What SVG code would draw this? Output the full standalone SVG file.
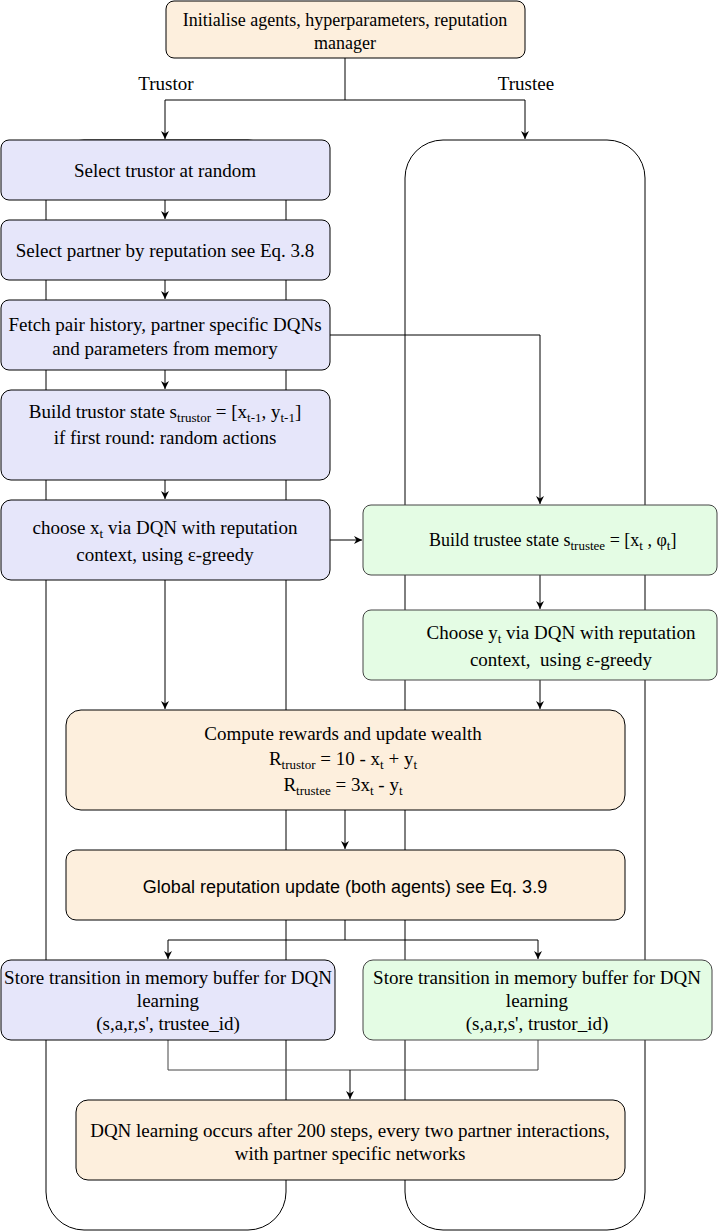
<svg xmlns="http://www.w3.org/2000/svg" width="719" height="1231" viewBox="0 0 719 1231">
<style>
.lane{fill:none;stroke:#000;stroke-width:1}
.peach{fill:#fdefdd;stroke:#000;stroke-width:1}
.lav{fill:#e6e6fa;stroke:#000;stroke-width:1}
.grn{fill:#e4fce4;stroke:#444;stroke-width:1}
.t{font-family:"Liberation Serif","Times New Roman",serif;font-size:19px;fill:#000;text-anchor:middle}
.t18{font-size:18px}
.ts{font-family:"Liberation Sans",Arial,sans-serif;font-size:18px;fill:#000;text-anchor:middle}
.sub{font-size:13px}
.c{fill:none;stroke:#000;stroke-width:1}
.cg{fill:none;stroke:#444;stroke-width:1}
</style>
<defs>
<marker id="ah" viewBox="0 0 10 10" refX="10" refY="5" markerWidth="8" markerHeight="8" markerUnits="userSpaceOnUse" orient="auto">
<path d="M0,0 L10,5 L0,10 L3,5 Z" fill="#000"/>
</marker>
</defs>
<g id="lanes">
<rect class="lane" x="46" y="140" width="240" height="1090" rx="38" ry="38"/>
<rect class="lane" x="405" y="140" width="240" height="1090" rx="38" ry="38"/>
</g>
<g id="connectors">
<path class="c" d="M345,58 V100 H165 V139" marker-end="url(#ah)"/>
<path class="c" d="M345,100 H525 V139" marker-end="url(#ah)"/>
<path class="c" d="M165,200 V219" marker-end="url(#ah)"/>
<path class="c" d="M165,280 V299" marker-end="url(#ah)"/>
<path class="c" d="M165,370 V389" marker-end="url(#ah)"/>
<path class="c" d="M165,480 V499" marker-end="url(#ah)"/>
<path class="c" d="M330,335 H540 V504" marker-end="url(#ah)"/>
<path class="c" d="M330,540 H362" marker-end="url(#ah)"/>
<path class="c" d="M540,575 V609" marker-end="url(#ah)"/>
<path class="c" d="M165,580 V709" marker-end="url(#ah)"/>
<path class="c" d="M540,680 V709" marker-end="url(#ah)"/>
<path class="c" d="M345,810 V849" marker-end="url(#ah)"/>
<path class="c" d="M345,920 V940 H168 V959" marker-end="url(#ah)"/>
<path class="c" d="M345,940 H538 V959" marker-end="url(#ah)"/>
<path class="cg" d="M168,1040 V1070 H538 V1040"/>
<path class="c" d="M350,1070 V1099" marker-end="url(#ah)"/>
</g>
<g id="labels">
<text class="t" x="166" y="90">Trustor</text>
<text class="t" x="526" y="90">Trustee</text>
</g>
<g id="init">
<rect class="peach" x="166" y="1" width="359" height="57" rx="8"/>
<text class="t t18" x="345" y="26">Initialise agents, hyperparameters, reputation</text>
<text class="t t18" x="345" y="49">manager</text>
</g>
<g id="select-trustor">
<rect class="lav" x="1" y="140" width="329" height="60" rx="8"/>
<text class="t" x="165" y="177">Select trustor at random</text>
</g>
<g id="select-partner">
<rect class="lav" x="1" y="220" width="329" height="60" rx="8"/>
<text class="t" x="165" y="257">Select partner by reputation see Eq. 3.8</text>
</g>
<g id="fetch">
<rect class="lav" x="1" y="300" width="329" height="70" rx="8"/>
<text class="t" x="165" y="331">Fetch pair history, partner specific DQNs</text>
<text class="t" x="165" y="355">and parameters from memory</text>
</g>
<g id="build-trustor">
<rect class="lav" x="1" y="390" width="329" height="90" rx="10"/>
<text class="t" x="165" y="418">Build trustor state s<tspan class="sub" dy="4">trustor</tspan><tspan dy="-4"> = [x</tspan><tspan class="sub" dy="4">t-1</tspan><tspan dy="-4">, y</tspan><tspan class="sub" dy="4">t-1</tspan><tspan dy="-4">]</tspan></text>
<text class="t" x="165" y="444">if first round: random actions</text>
</g>
<g id="choose-x">
<rect class="lav" x="1" y="500" width="329" height="80" rx="10"/>
<text class="t" x="165" y="534">choose x<tspan class="sub" dy="4">t</tspan><tspan dy="-4"> via DQN with reputation</tspan></text>
<text class="t" x="165" y="561">context, using ε-greedy</text>
</g>
<g id="build-trustee">
<rect class="grn" x="363" y="505" width="354" height="70" rx="8"/>
<text class="t t18" x="429" y="546" style="text-anchor:start">Build trustee state s<tspan class="sub" dy="4">trustee</tspan><tspan dy="-4"> = [x</tspan><tspan class="sub" dy="4">t</tspan><tspan dy="-4"> , φ</tspan><tspan class="sub" dy="4">t</tspan><tspan dy="-4">]</tspan></text>
</g>
<g id="choose-y">
<rect class="grn" x="363" y="610" width="354" height="70" rx="8"/>
<text class="t" x="561" y="639">Choose y<tspan class="sub" dy="4">t</tspan><tspan dy="-4"> via DQN with reputation</tspan></text>
<text class="t" x="561" y="666" xml:space="preserve">context,  using ε-greedy</text>
</g>
<g id="compute">
<rect class="peach" x="66" y="710" width="559" height="100" rx="15"/>
<text class="t" x="343" y="740">Compute rewards and update wealth</text>
<text class="t" x="343" y="765">R<tspan class="sub" dy="4">trustor</tspan><tspan dy="-4"> = 10 - x</tspan><tspan class="sub" dy="4">t</tspan><tspan dy="-4"> + y</tspan><tspan class="sub" dy="4">t</tspan></text>
<text class="t" x="343" y="791">R<tspan class="sub" dy="4">trustee</tspan><tspan dy="-4"> = 3x</tspan><tspan class="sub" dy="4">t</tspan><tspan dy="-4"> - y</tspan><tspan class="sub" dy="4">t</tspan></text>
</g>
<g id="global">
<rect class="peach" x="66" y="850" width="559" height="70" rx="10"/>
<text class="ts" x="345" y="893">Global reputation update (both agents) see Eq. 3.9</text>
</g>
<g id="store-trustor">
<rect class="lav" x="1" y="960" width="334" height="80" rx="10"/>
<text class="t" x="168" y="984">Store transition in memory buffer for DQN</text>
<text class="t" x="168" y="1007">learning</text>
<text class="t" x="168" y="1030">(s,a,r,s', trustee_id)</text>
</g>
<g id="store-trustee">
<rect class="grn" x="363" y="960" width="349" height="80" rx="10"/>
<text class="t" x="537" y="984">Store transition in memory buffer for DQN</text>
<text class="t" x="537" y="1007">learning</text>
<text class="t" x="537" y="1030">(s,a,r,s', trustor_id)</text>
</g>
<g id="dqn-learning">
<rect class="peach" x="76" y="1100" width="549" height="80" rx="12"/>
<text class="t" x="350" y="1137">DQN learning occurs after 200 steps, every two partner interactions,</text>
<text class="t" x="350" y="1160">with partner specific networks</text>
</g>
</svg>
